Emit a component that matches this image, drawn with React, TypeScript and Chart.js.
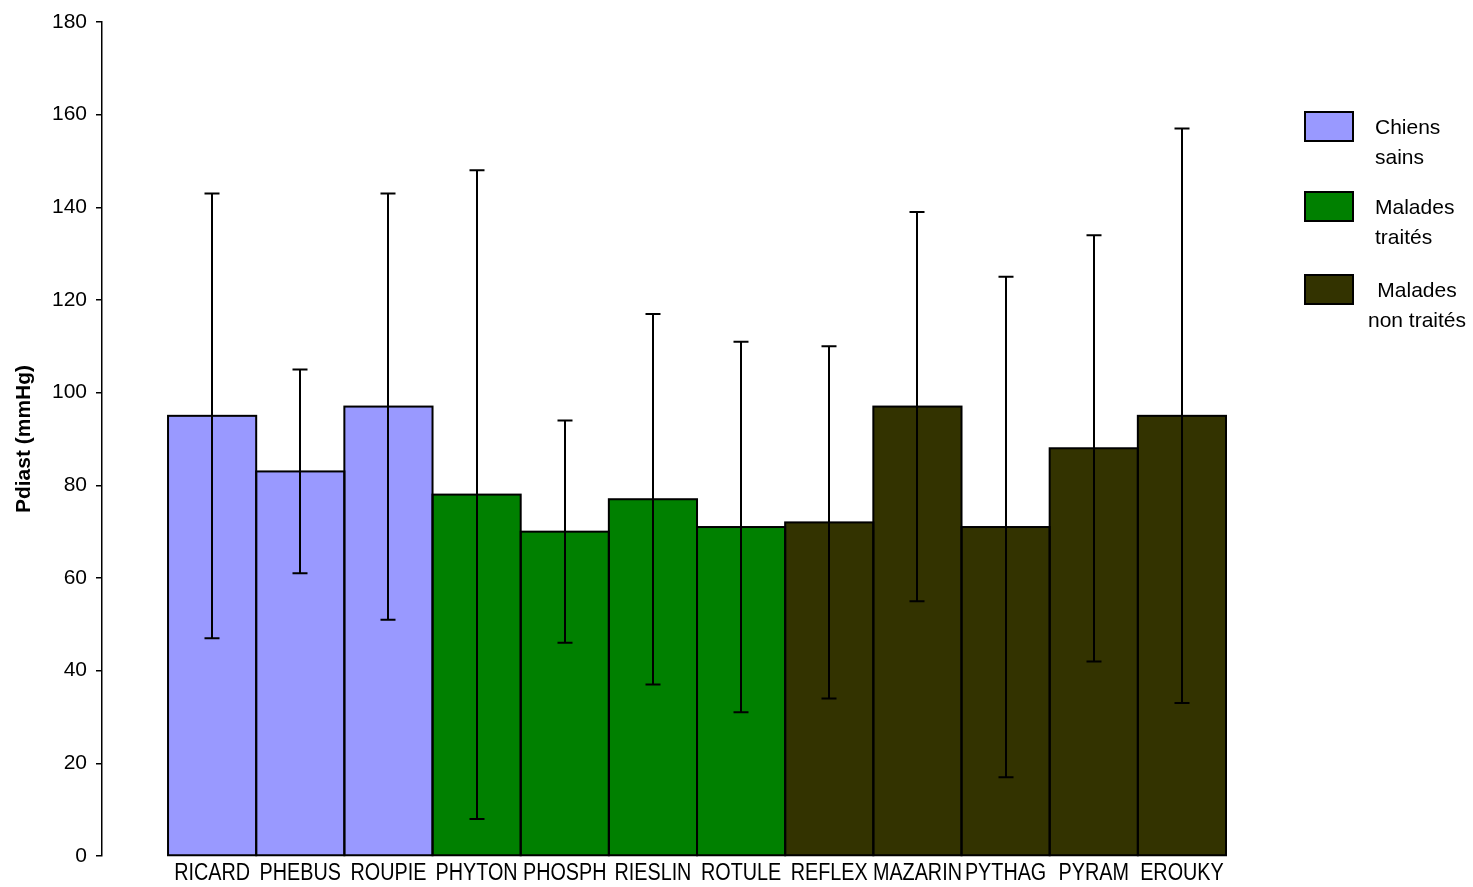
import React, { useEffect, useRef } from "react";
import { Chart, registerables } from "chart.js";

Chart.register(...registerables);

// Dogs and their mean diastolic pressure (mmHg) with standard deviations
const categories = [
  "RICARD", "PHEBUS", "ROUPIE", "PHYTON", "PHOSPH", "RIESLIN",
  "ROTULE", "REFLEX", "MAZARIN", "PYTHAG", "PYRAM", "EROUKY",
];
const means = [95, 83, 97, 78, 70, 77, 71, 72, 97, 71, 88, 95];
const sds = [48, 22, 46, 70, 24, 40, 40, 38, 42, 54, 46, 62];
// Group index of each dog
const groups = [0, 0, 0, 1, 1, 1, 1, 2, 2, 2, 2, 2];
const groupNames = [["Chiens", "sains"], ["Malades", "traités"], ["Malades", "non traités"]];
const groupColors = ["#9999FF", "#008000", "#333300"];

const yMin = 0;
const yMax = 180;
const yStep = 20;

const FONT = "'Liberation Sans', Arial, sans-serif";

// Outlines every bar with a line centred on its edges, so neighbours share one stroke
const barOutline = {
  id: "barOutline",
  afterDatasetsDraw(chart: any) {
    const ctx = chart.ctx;
    const meta = chart.getDatasetMeta(0);
    ctx.save();
    ctx.strokeStyle = "#000";
    ctx.lineWidth = 2;
    meta.data.forEach((bar: any) => {
      const { x, y, base, width } = bar.getProps(["x", "y", "base", "width"], true);
      ctx.strokeRect(x - width / 2, y, width, base - y);
    });
    ctx.restore();
  },
};

// Standard-deviation whiskers
const errorBars = {
  id: "errorBars",
  afterDatasetsDraw(chart: any) {
    const ctx = chart.ctx;
    const yScale = chart.scales.y;
    const meta = chart.getDatasetMeta(0);
    const cap = 7.5;
    ctx.save();
    ctx.strokeStyle = "#000";
    ctx.lineWidth = 2;
    meta.data.forEach((bar: any, i: number) => {
      const x = Math.round(bar.x);
      const hi = yScale.getPixelForValue(means[i] + sds[i]);
      const lo = yScale.getPixelForValue(means[i] - sds[i]);
      ctx.beginPath();
      ctx.moveTo(x, hi);
      ctx.lineTo(x, lo);
      ctx.moveTo(x - cap, hi);
      ctx.lineTo(x + cap, hi);
      ctx.moveTo(x - cap, lo);
      ctx.lineTo(x + cap, lo);
      ctx.stroke();
    });
    ctx.restore();
  },
};

// Condensed category labels under each bar, placed by the x scale
const categoryLabels = {
  id: "categoryLabels",
  afterDraw(chart: any) {
    const ctx = chart.ctx;
    const xScale = chart.scales.x;
    const squeeze = 0.86;
    ctx.save();
    ctx.font = `23px ${FONT}`;
    ctx.fillStyle = "#000";
    ctx.textAlign = "center";
    ctx.textBaseline = "alphabetic";
    const baseY = xScale.top + 24;
    categories.forEach((name, i) => {
      const x = xScale.getPixelForValue(i);
      ctx.save();
      ctx.translate(x, baseY);
      ctx.scale(squeeze, 1);
      ctx.fillText(name, 0, 0);
      ctx.restore();
    });
    ctx.restore();
  },
};

// Legend on the right with two-line labels
const sideLegend = {
  id: "sideLegend",
  afterDraw(chart: any) {
    const ctx = chart.ctx;
    const boxX = 1305;
    const boxW = 48;
    const boxH = 29;
    const tops = [112, 192, 275];
    ctx.save();
    ctx.font = `21px ${FONT}`;
    ctx.textBaseline = "middle";
    groupNames.forEach((lines, g) => {
      const top = tops[g];
      ctx.fillStyle = groupColors[g];
      ctx.fillRect(boxX, top, boxW, boxH);
      ctx.strokeStyle = "#000";
      ctx.lineWidth = 2;
      ctx.strokeRect(boxX, top, boxW, boxH);
      ctx.fillStyle = "#000";
      const cy = top + boxH / 2 + 2;
      lines.forEach((line, k) => {
        if (g === 2) {
          ctx.textAlign = "center";
          ctx.fillText(line, 1417, cy + k * 30);
        } else {
          ctx.textAlign = "left";
          ctx.fillText(line, 1375, cy + k * 30);
        }
      });
    });
    ctx.restore();
  },
};

export default function App() {
  const canvasRef = useRef<HTMLCanvasElement>(null);

  useEffect(() => {
    if (!canvasRef.current) return;
    const chart = new Chart(canvasRef.current, {
      type: "bar",
      data: {
        datasets: [
          {
            data: means.map((v, i) => ({ x: i, y: v })),
            backgroundColor: groups.map((g) => groupColors[g]),
            borderWidth: 0,
            categoryPercentage: 1,
            barPercentage: 1,
          },
        ],
      },
      options: {
        animation: false,
        responsive: false,
        maintainAspectRatio: false,
        layout: { padding: { top: 22, right: 247, bottom: 0, left: 0 } },
        plugins: {
          legend: { display: false },
          tooltip: { enabled: false },
        },
        scales: {
          x: {
            type: "linear",
            offset: false,
            min: -1.249,
            max: 11.5,
            grid: { display: false, drawTicks: false, offset: false },
            border: { display: false },
            afterBuildTicks: (scale: any) => {
              scale.ticks = categories.map((_, i) => ({ value: i }));
            },
            afterFit: (scale: any) => {
              scale.height = 31;
            },
            ticks: { display: false },
          },
          y: {
            min: yMin,
            max: yMax,
            grid: {
              display: true,
              drawOnChartArea: false,
              drawTicks: true,
              tickLength: 6,
              color: "#000",
              lineWidth: 1.5,
            },
            border: { display: true, color: "#000", width: 1.5 },
            afterFit: (scale: any) => {
              scale.width = 102;
            },
            ticks: {
              stepSize: yStep,
              padding: 9,
              color: "#000",
              font: { family: FONT, size: 21 },
            },
            title: {
              display: true,
              text: "Pdiast (mmHg)",
              color: "#000",
              font: { family: FONT, size: 21, weight: "bold" },
              padding: { top: 12, bottom: 0 },
            },
          },
        },
      },
      plugins: [barOutline, errorBars, categoryLabels, sideLegend],
    } as any);
    return () => chart.destroy();
  }, []);

  return (
    <div style={{ position: "fixed", left: 0, top: 0, width: 1473, height: 887, background: "#fff" }}>
      <canvas ref={canvasRef} width={1473} height={887} style={{ width: 1473, height: 887 }} />
    </div>
  );
}
